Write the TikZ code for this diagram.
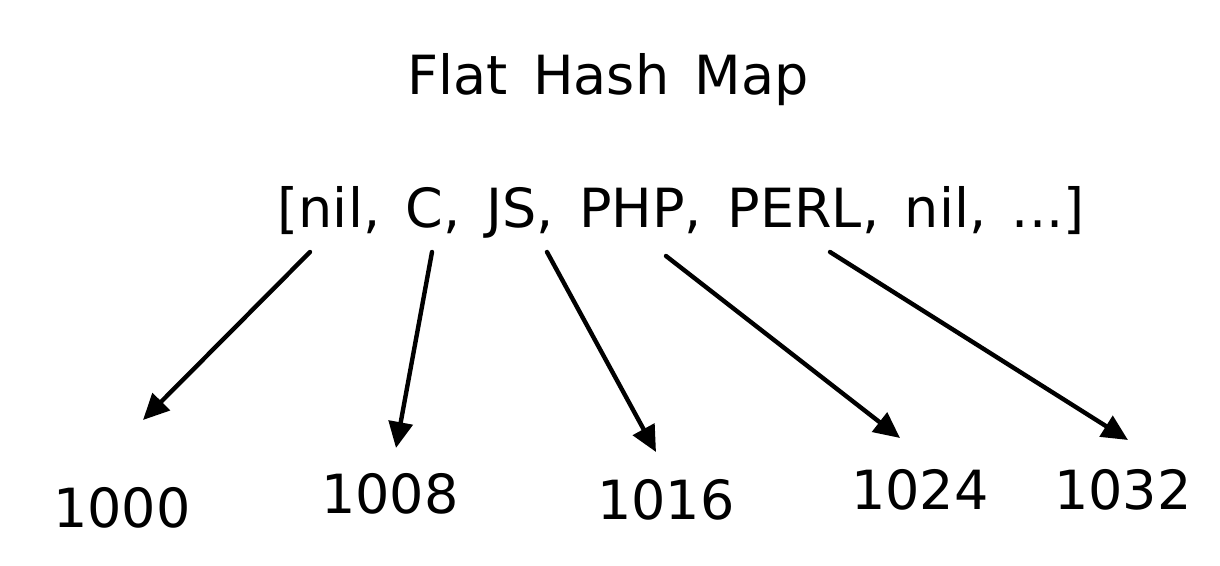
\documentclass[tikz,border=0pt]{standalone}
\usepackage{fontspec}
\setmainfont{DejaVu Sans}
\usetikzlibrary{arrows.meta,positioning}

\newcommand\sketchfont{\fontsize{27}{32}\selectfont\spaceskip 12.8pt\relax}

\tikzset{
  label text/.style={font=\sketchfont, inner sep=0pt},
  ptr/.style={line width=2.2pt, -{Triangle[length=13pt,width=12pt]}, line cap=round}
}

\begin{document}
\begin{tikzpicture}[x=0.5pt,y=-0.5pt]
\useasboundingbox (0,0) rectangle (1220,566);

\node[label text] (title) at (608,80) {Flat Hash Map};
\node[label text] (slots) at (681,212) {[nil, C, JS, PHP, PERL, nil, ...]};

\node[label text] (n1000) at (122,508) {1000};
\node[label text] (n1008) at (390,494) {1008};
\node[label text] (n1016) at (666,500) {1016};
\node[label text] (n1024) at (920,490) {1024};
\node[label text] (n1032) at (1123,490) {1032};

% pointers from the slots
\coordinate (s1) at (310,252);
\coordinate (s2) at (432,252);
\coordinate (s3) at (547,252);
\coordinate (s4) at (666,256);
\coordinate (s5) at (830,252);

\coordinate (e1) at (143,420);
\coordinate (e2) at (396,448);
\coordinate (e3) at (656,452);
\coordinate (e4) at (900,438);
\coordinate (e5) at (1128,440);

\foreach \i in {1,...,5}
  \draw[ptr] (s\i) -- (e\i);
\end{tikzpicture}
\end{document}
